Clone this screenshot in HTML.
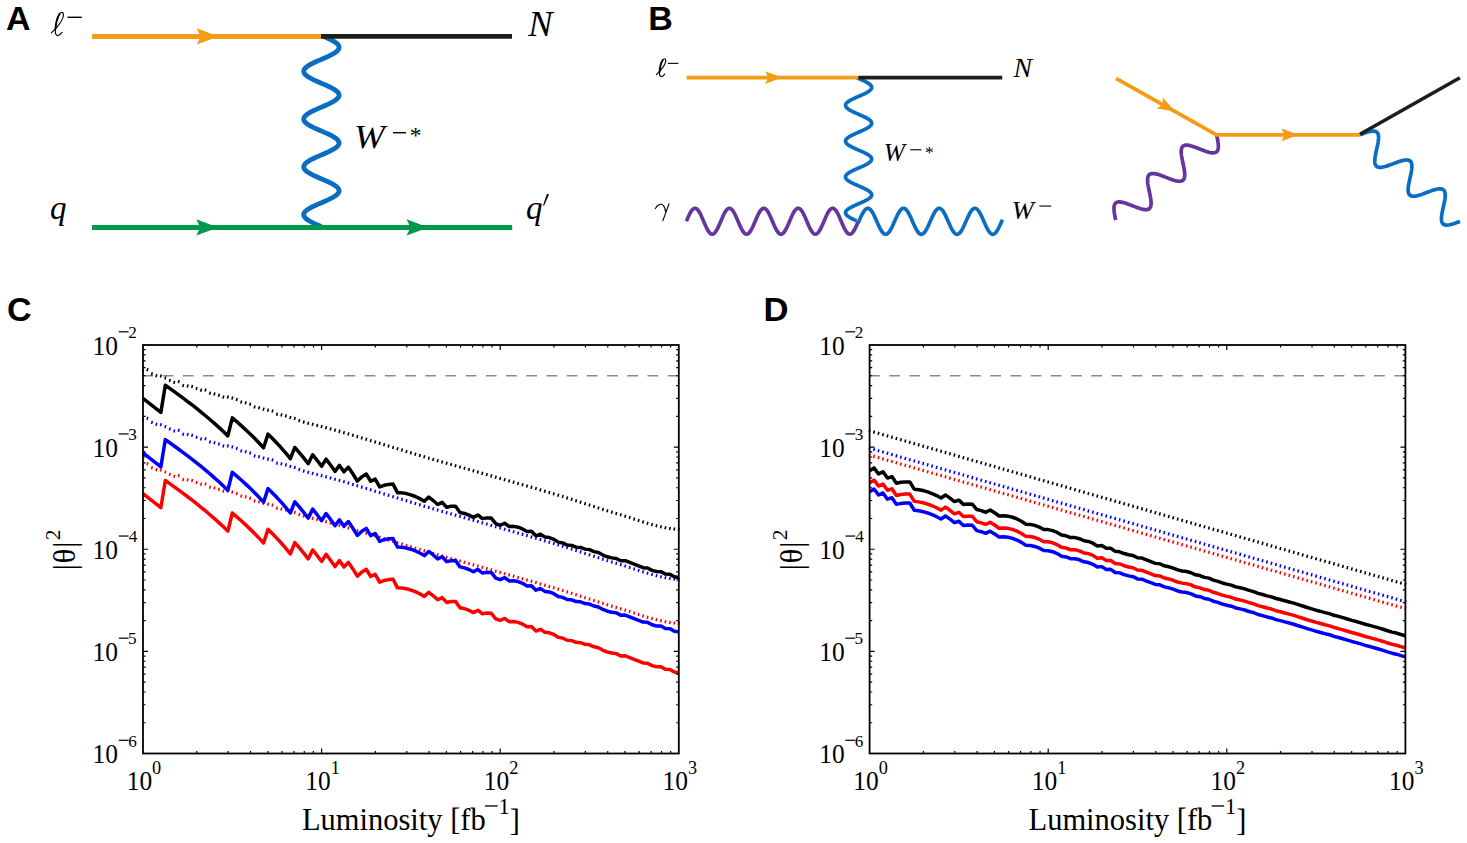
<!DOCTYPE html>
<html><head><meta charset="utf-8"><style>
html,body{margin:0;padding:0;background:#fff;}
svg{display:block;}
</style></head><body>
<svg width="1467" height="843" viewBox="0 0 1467 843">
<rect width="1467" height="843" fill="#fff"/>
<text x="6.05" y="29.8" font-family='"Liberation Sans", sans-serif' font-weight="bold" font-size="34" fill="#000" >A</text>
<text x="648.13" y="29.7" font-family='"Liberation Sans", sans-serif' font-weight="bold" font-size="34" fill="#000" >B</text>
<text x="6.91" y="320.8" font-family='"Liberation Sans", sans-serif' font-weight="bold" font-size="34" fill="#000" >C</text>
<text transform="translate(763.48,320.8) scale(1.02,1)" font-family='"Liberation Sans", sans-serif' font-weight="bold" font-size="34" fill="#000" >D</text>
<path d="M324.07,36.6 L326.75,37.79 L329.31,38.98 L331.68,40.16 L333.8,41.35 L335.61,42.54 L337.08,43.73 L338.17,44.92 L338.84,46.11 L339.1,47.29 L338.92,48.48 L338.32,49.67 L337.3,50.86 L335.9,52.05 L334.15,53.23 L332.08,54.42 L329.76,55.61 L327.23,56.8 L324.56,57.99 L321.81,59.17 L319.05,60.36 L316.35,61.55 L313.77,62.74 L311.38,63.93 L309.23,65.11 L307.38,66.3 L305.87,67.49 L304.74,68.68 L304.01,69.87 L303.71,71.06 L303.84,72.24 L304.39,73.43 L305.36,74.62 L306.72,75.81 L308.43,77 L310.47,78.18 L312.76,79.37 L315.27,80.56 L317.93,81.75 L320.67,82.94 L323.43,84.12 L326.14,85.31 L328.74,86.5 L331.15,87.69 L333.33,88.88 L335.22,90.07 L336.77,91.25 L337.95,92.44 L338.72,93.63 L339.08,94.82 L339,96.01 L338.5,97.19 L337.57,98.38 L336.26,99.57 L334.58,100.76 L332.58,101.95 L330.31,103.13 L327.83,104.32 L325.18,105.51 L322.45,106.7 L319.69,107.89 L316.97,109.08 L314.36,110.26 L311.92,111.45 L309.71,112.64 L307.78,113.83 L306.19,115.02 L304.97,116.2 L304.14,117.39 L303.74,118.58 L303.77,119.77 L304.22,120.96 L305.1,122.15 L306.37,123.33 L308.01,124.52 L309.97,125.71 L312.21,126.9 L314.68,128.09 L317.3,129.27 L320.03,130.46 L322.79,131.65 L325.52,132.84 L328.15,134.03 L330.61,135.21 L332.85,136.4 L334.81,137.59 L336.44,138.78 L337.71,139.97 L338.58,141.16 L339.03,142.34 L339.06,143.53 L338.65,144.72 L337.82,145.91 L336.6,147.1 L335,148.28 L333.07,149.47 L330.86,150.66 L328.42,151.85 L325.81,153.04 L323.09,154.22 L320.32,155.41 L317.59,156.6 L314.95,157.79 L312.46,158.98 L310.19,160.16 L308.2,161.35 L306.53,162.54 L305.22,163.73 L304.3,164.92 L303.8,166.11 L303.72,167.29 L304.08,168.48 L304.86,169.67 L306.04,170.86 L307.6,172.05 L309.49,173.23 L311.67,174.42 L314.09,175.61 L316.69,176.8 L319.4,177.99 L322.16,179.17 L324.9,180.36 L327.55,181.55 L330.06,182.74 L332.36,183.93 L334.38,185.12 L336.1,186.3 L337.45,187.49 L338.42,188.68 L338.97,189.87 L339.09,191.06 L338.78,192.24 L338.05,193.43 L336.91,194.62 L335.4,195.81 L333.55,197 L331.4,198.18 L329,199.37 L326.42,200.56 L323.72,201.75 L320.96,202.94 L318.22,204.13 L315.55,205.31 L313.02,206.5 L310.7,207.69 L308.63,208.88 L306.88,210.07 L305.48,211.25 L304.47,212.44 L303.87,213.63 L303.7,214.82 L303.96,216.01 L304.64,217.19 L305.73,218.38 L307.21,219.57 L309.02,220.76 L311.14,221.95 L313.51,223.14 L316.07,224.32 L318.76,225.51 L321.52,226.7" fill="none" stroke="#0A6DC2" stroke-width="4.8" stroke-linejoin="round" stroke-linecap="butt" />
<line x1="92" y1="36.4" x2="321.2" y2="36.4" stroke="#F49C14" stroke-width="5" stroke-linecap="butt" />
<line x1="321" y1="36.4" x2="512" y2="36.4" stroke="#1d1d1b" stroke-width="4.6" stroke-linecap="butt" />
<path d="M218.5,36.4 L196.7,44.6 L200.62,36.4 L196.7,28.2Z" fill="#F49C14"/>
<line x1="92" y1="227.4" x2="512.2" y2="227.4" stroke="#00984A" stroke-width="5" stroke-linecap="butt" />
<path d="M218.1,227.4 L196.3,235.6 L200.22,227.4 L196.3,219.2Z" fill="#00984A"/>
<path d="M428.4,227.4 L406.6,235.6 L410.52,227.4 L406.6,219.2Z" fill="#00984A"/>
<path transform="translate(51,12.4) scale(0.99)" d="M0.3,20.7 L5.4,15.6 C8.5,12 12.8,5.5 12.6,2 C12.4,-0.8 10,-0.6 8.6,1.6 C6.5,5 4.8,12 4.4,17 C4.1,21 4.8,23.3 6.6,23.4 C8.4,23.4 10.2,21.5 11.2,20.2" fill="none" stroke="#000" stroke-width="1.16" stroke-linecap="round"/>
<path transform="translate(51,12.4) scale(0.99)" d="M8.6,1.6 C6.5,5 4.8,12 4.4,17" fill="none" stroke="#000" stroke-width="1.92" stroke-linecap="round"/>
<rect x="67.5" y="16.6" width="14.3" height="1.4" fill="#000"/>
<text x="528.17" y="35.8" font-family='"Liberation Serif", serif' font-style="italic" font-size="36.5" fill="#000" >N</text>
<text transform="translate(354.06,147.6) scale(1.09,1)" font-family='"Liberation Serif", serif' font-style="italic" font-size="34" fill="#000" >W</text>
<rect x="393" y="132" width="13" height="1.4" fill="#000"/>
<text x="409.65" y="143.3" font-family='"Liberation Serif", serif'  font-size="23.5" fill="#000" >*</text>
<text x="50" y="219.2" font-family='"Liberation Serif", serif' font-style="italic" font-size="33" fill="#000" >q</text>
<text x="525.9" y="219.4" font-family='"Liberation Serif", serif' font-style="italic" font-size="33" fill="#000" >q</text>
<path d="M546.9,194.0 Q548.2,193.6 549.0,194.6 L544.0,205.8 L543.0,205.4 Z" fill="#000"/>
<path d="M856.54,77.6 L858.59,78.49 L860.64,79.39 L862.64,80.28 L864.54,81.18 L866.29,82.07 L867.85,82.97 L869.19,83.86 L870.27,84.76 L871.06,85.66 L871.54,86.55 L871.7,87.44 L871.54,88.34 L871.06,89.23 L870.28,90.13 L869.2,91.02 L867.87,91.92 L866.31,92.81 L864.56,93.71 L862.66,94.6 L860.66,95.5 L858.61,96.39 L856.56,97.29 L854.56,98.19 L852.66,99.08 L850.91,99.97 L849.35,100.87 L848.01,101.77 L846.93,102.66 L846.14,103.55 L845.66,104.45 L845.5,105.34 L845.66,106.24 L846.14,107.13 L846.92,108.03 L848,108.92 L849.33,109.82 L850.89,110.72 L852.64,111.61 L854.54,112.5 L856.54,113.4 L858.59,114.29 L860.64,115.19 L862.64,116.09 L864.54,116.98 L866.29,117.88 L867.85,118.77 L869.19,119.66 L870.27,120.56 L871.06,121.46 L871.54,122.35 L871.7,123.25 L871.54,124.14 L871.06,125.03 L870.28,125.93 L869.2,126.83 L867.87,127.72 L866.31,128.62 L864.56,129.51 L862.66,130.41 L860.66,131.3 L858.61,132.19 L856.56,133.09 L854.56,133.99 L852.66,134.88 L850.91,135.78 L849.35,136.67 L848.01,137.56 L846.93,138.46 L846.14,139.36 L845.66,140.25 L845.5,141.14 L845.66,142.04 L846.14,142.94 L846.92,143.83 L848,144.73 L849.33,145.62 L850.89,146.51 L852.64,147.41 L854.54,148.31 L856.54,149.2 L858.59,150.09 L860.64,150.99 L862.64,151.88 L864.54,152.78 L866.29,153.68 L867.85,154.57 L869.19,155.47 L870.27,156.36 L871.06,157.25 L871.54,158.15 L871.7,159.05 L871.54,159.94 L871.06,160.84 L870.28,161.73 L869.2,162.62 L867.87,163.52 L866.31,164.41 L864.56,165.31 L862.66,166.21 L860.66,167.1 L858.61,168 L856.56,168.89 L854.56,169.79 L852.66,170.68 L850.91,171.57 L849.35,172.47 L848.01,173.37 L846.93,174.26 L846.14,175.16 L845.66,176.05 L845.5,176.94 L845.66,177.84 L846.14,178.74 L846.92,179.63 L848,180.53 L849.33,181.42 L850.89,182.31 L852.64,183.21 L854.54,184.11 L856.54,185 L858.59,185.9 L860.64,186.79 L862.64,187.69 L864.54,188.58 L866.29,189.48 L867.85,190.37 L869.19,191.26 L870.27,192.16 L871.06,193.06 L871.54,193.95 L871.7,194.84 L871.54,195.74 L871.06,196.64 L870.28,197.53 L869.2,198.43 L867.87,199.32 L866.31,200.22 L864.56,201.11 L862.66,202 L860.66,202.9 L858.61,203.8 L856.56,204.69 L854.56,205.59 L852.66,206.48 L850.91,207.38 L849.35,208.27 L848.01,209.16 L846.93,210.06 L846.14,210.96 L845.66,211.85 L845.5,212.75 L845.66,213.64 L846.14,214.54 L846.92,215.43 L848,216.33 L849.33,217.22 L850.89,218.12 L852.64,219.01 L854.54,219.91 L856.54,220.8" fill="none" stroke="#0A6DC2" stroke-width="3.7" stroke-linejoin="round" stroke-linecap="butt" />
<path d="M686.4,221.2 L687.48,218.66 L688.55,216.23 L689.62,213.98 L690.7,212.01 L691.77,210.39 L692.85,209.19 L693.92,208.45 L695,208.2 L696.07,208.45 L697.15,209.19 L698.23,210.39 L699.3,212.01 L700.38,213.98 L701.45,216.23 L702.52,218.66 L703.6,221.2 L704.67,223.74 L705.75,226.17 L706.82,228.42 L707.9,230.39 L708.98,232.01 L710.05,233.21 L711.12,233.95 L712.2,234.2 L713.27,233.95 L714.35,233.21 L715.42,232.01 L716.5,230.39 L717.57,228.42 L718.65,226.17 L719.73,223.74 L720.8,221.2 L721.88,218.66 L722.95,216.23 L724.02,213.98 L725.1,212.01 L726.17,210.39 L727.25,209.19 L728.32,208.45 L729.4,208.2 L730.48,208.45 L731.55,209.19 L732.62,210.39 L733.7,212.01 L734.77,213.98 L735.85,216.23 L736.92,218.66 L738,221.2 L739.07,223.74 L740.15,226.17 L741.23,228.42 L742.3,230.39 L743.38,232.01 L744.45,233.21 L745.52,233.95 L746.6,234.2 L747.67,233.95 L748.75,233.21 L749.82,232.01 L750.9,230.39 L751.98,228.42 L753.05,226.17 L754.12,223.74 L755.2,221.2 L756.27,218.66 L757.35,216.23 L758.42,213.98 L759.5,212.01 L760.57,210.39 L761.65,209.19 L762.73,208.45 L763.8,208.2 L764.88,208.45 L765.95,209.19 L767.02,210.39 L768.1,212.01 L769.17,213.98 L770.25,216.23 L771.32,218.66 L772.4,221.2 L773.48,223.74 L774.55,226.17 L775.62,228.42 L776.7,230.39 L777.77,232.01 L778.85,233.21 L779.92,233.95 L781,234.2 L782.07,233.95 L783.15,233.21 L784.23,232.01 L785.3,230.39 L786.38,228.42 L787.45,226.17 L788.52,223.74 L789.6,221.2 L790.67,218.66 L791.75,216.23 L792.82,213.98 L793.9,212.01 L794.98,210.39 L796.05,209.19 L797.12,208.45 L798.2,208.2 L799.27,208.45 L800.35,209.19 L801.42,210.39 L802.5,212.01 L803.57,213.98 L804.65,216.23 L805.73,218.66 L806.8,221.2 L807.88,223.74 L808.95,226.17 L810.02,228.42 L811.1,230.39 L812.17,232.01 L813.25,233.21 L814.32,233.95 L815.4,234.2 L816.47,233.95 L817.55,233.21 L818.62,232.01 L819.7,230.39 L820.77,228.42 L821.85,226.17 L822.92,223.74 L824,221.2 L825.08,218.66 L826.15,216.23 L827.22,213.98 L828.3,212.01 L829.38,210.39 L830.45,209.19 L831.52,208.45 L832.6,208.2 L833.67,208.45 L834.75,209.19 L835.83,210.39 L836.9,212.01 L837.97,213.98 L839.05,216.23 L840.12,218.66 L841.2,221.2 L842.27,223.74 L843.35,226.17 L844.42,228.42 L845.5,230.39 L846.58,232.01 L847.65,233.21 L848.72,233.95 L849.8,234.2 L850.88,233.95 L851.95,233.21 L853.02,232.01 L854.1,230.39 L855.17,228.42 L856.25,226.17 L857.33,223.74 L858.4,221.2" fill="none" stroke="#66369E" stroke-width="3.7" stroke-linejoin="round" stroke-linecap="butt" />
<path d="M858.2,222.9 L859.1,220.84 L860,218.79 L860.9,216.81 L861.81,214.94 L862.71,213.23 L863.61,211.72 L864.51,210.45 L865.41,209.46 L866.31,208.76 L867.21,208.38 L868.11,208.32 L869.01,208.58 L869.92,209.17 L870.82,210.06 L871.72,211.24 L872.62,212.66 L873.52,214.3 L874.42,216.12 L875.32,218.07 L876.23,220.1 L877.13,222.16 L878.03,224.2 L878.93,226.16 L879.83,228.01 L880.73,229.68 L881.63,231.15 L882.53,232.36 L883.44,233.3 L884.34,233.94 L885.24,234.26 L886.14,234.26 L887.04,233.93 L887.94,233.28 L888.84,232.33 L889.74,231.11 L890.64,229.64 L891.55,227.96 L892.45,226.11 L893.35,224.14 L894.25,222.1 L895.15,220.04 L896.05,218.01 L896.95,216.07 L897.86,214.25 L898.76,212.62 L899.66,211.2 L900.56,210.03 L901.46,209.15 L902.36,208.57 L903.26,208.31 L904.16,208.38 L905.07,208.77 L905.97,209.48 L906.87,210.49 L907.77,211.76 L908.67,213.28 L909.57,214.99 L910.47,216.87 L911.37,218.85 L912.27,220.9 L913.18,222.96 L914.08,224.97 L914.98,226.9 L915.88,228.68 L916.78,230.28 L917.68,231.65 L918.58,232.76 L919.49,233.59 L920.39,234.1 L921.29,234.3 L922.19,234.17 L923.09,233.71 L923.99,232.95 L924.89,231.89 L925.79,230.56 L926.7,229.01 L927.6,227.26 L928.5,225.36 L929.4,223.35 L930.3,221.3 L931.2,219.25 L932.1,217.24 L933,215.34 L933.9,213.59 L934.81,212.04 L935.71,210.71 L936.61,209.65 L937.51,208.89 L938.41,208.43 L939.31,208.3 L940.21,208.5 L941.12,209.01 L942.02,209.84 L942.92,210.95 L943.82,212.32 L944.72,213.92 L945.62,215.7 L946.52,217.63 L947.42,219.64 L948.33,221.7 L949.23,223.75 L950.13,225.73 L951.03,227.61 L951.93,229.32 L952.83,230.84 L953.73,232.11 L954.63,233.12 L955.53,233.83 L956.44,234.22 L957.34,234.29 L958.24,234.03 L959.14,233.45 L960.04,232.57 L960.94,231.4 L961.84,229.98 L962.75,228.35 L963.65,226.53 L964.55,224.59 L965.45,222.56 L966.35,220.5 L967.25,218.46 L968.15,216.49 L969.05,214.64 L969.96,212.96 L970.86,211.49 L971.76,210.27 L972.66,209.32 L973.56,208.67 L974.46,208.34 L975.36,208.34 L976.26,208.66 L977.16,209.3 L978.07,210.24 L978.97,211.45 L979.87,212.92 L980.77,214.59 L981.67,216.44 L982.57,218.4 L983.47,220.44 L984.38,222.5 L985.28,224.53 L986.18,226.48 L987.08,228.3 L987.98,229.94 L988.88,231.36 L989.78,232.54 L990.68,233.43 L991.59,234.02 L992.49,234.28 L993.39,234.22 L994.29,233.84 L995.19,233.14 L996.09,232.15 L996.99,230.88 L997.89,229.37 L998.79,227.66 L999.7,225.79 L1000.6,223.81 L1001.5,221.76 L1002.4,219.7" fill="none" stroke="#0A6DC2" stroke-width="3.7" stroke-linejoin="round" stroke-linecap="butt" />
<line x1="686.6" y1="77.6" x2="858.6" y2="77.6" stroke="#F49C14" stroke-width="3.8" stroke-linecap="butt" />
<line x1="858.4" y1="77.6" x2="1002.2" y2="77.6" stroke="#1d1d1b" stroke-width="3.6" stroke-linecap="butt" />
<path d="M782.2,77.6 L765.2,83.95 L768.26,77.6 L765.2,71.25Z" fill="#F49C14"/>
<path transform="translate(656.2,58.8) scale(0.76)" d="M0.3,20.7 L5.4,15.6 C8.5,12 12.8,5.5 12.6,2 C12.4,-0.8 10,-0.6 8.6,1.6 C6.5,5 4.8,12 4.4,17 C4.1,21 4.8,23.3 6.6,23.4 C8.4,23.4 10.2,21.5 11.2,20.2" fill="none" stroke="#000" stroke-width="1.51" stroke-linecap="round"/>
<path transform="translate(656.2,58.8) scale(0.76)" d="M8.6,1.6 C6.5,5 4.8,12 4.4,17" fill="none" stroke="#000" stroke-width="2.5" stroke-linecap="round"/>
<rect x="667.8" y="62.8" width="10.6" height="1.1" fill="#000"/>
<text x="1013.6" y="77.2" font-family='"Liberation Serif", serif' font-style="italic" font-size="27.8" fill="#000" >N</text>
<text transform="translate(883.72,161.3) scale(1.02,1)" font-family='"Liberation Serif", serif' font-style="italic" font-size="25" fill="#000" >W</text>
<rect x="910.2" y="149.2" width="11.2" height="1.1" fill="#000"/>
<text x="924.95" y="158.2" font-family='"Liberation Serif", serif'  font-size="17.5" fill="#000" >*</text>
<path d="M655.4,208.6 C657.4,204.6 661.2,202.8 663.5,205.6 C664.8,207.2 665.4,209.6 665.6,211.8 M669,203.9 L662.9,220.6" fill="none" stroke="#000" stroke-width="1.15" stroke-linecap="round"/>
<text transform="translate(1011.65,219) scale(1.04,1)" font-family='"Liberation Serif", serif' font-style="italic" font-size="25.5" fill="#000" >W</text>
<rect x="1039.4" y="205.5" width="11.9" height="1.1" fill="#000"/>
<path d="M1216.6,134.8 L1216.96,136.5 L1217.3,138.18 L1217.61,139.84 L1217.89,141.44 L1218.11,142.98 L1218.26,144.45 L1218.34,145.82 L1218.34,147.1 L1218.24,148.26 L1218.04,149.3 L1217.74,150.22 L1217.32,151 L1216.78,151.65 L1216.13,152.16 L1215.37,152.53 L1214.49,152.77 L1213.5,152.87 L1212.4,152.85 L1211.2,152.72 L1209.92,152.47 L1208.55,152.13 L1207.11,151.7 L1205.61,151.21 L1204.06,150.65 L1202.47,150.05 L1200.86,149.42 L1199.24,148.79 L1197.63,148.16 L1196.04,147.55 L1194.47,146.97 L1192.95,146.45 L1191.49,146 L1190.1,145.63 L1188.78,145.35 L1187.55,145.18 L1186.42,145.12 L1185.4,145.18 L1184.48,145.38 L1183.68,145.7 L1182.99,146.17 L1182.42,146.77 L1181.96,147.51 L1181.61,148.38 L1181.38,149.38 L1181.25,150.5 L1181.21,151.74 L1181.27,153.09 L1181.4,154.52 L1181.6,156.04 L1181.86,157.62 L1182.16,159.26 L1182.5,160.94 L1182.85,162.63 L1183.2,164.33 L1183.55,166.03 L1183.88,167.69 L1184.17,169.31 L1184.41,170.87 L1184.59,172.37 L1184.69,173.77 L1184.72,175.08 L1184.65,176.28 L1184.49,177.37 L1184.22,178.33 L1183.84,179.15 L1183.34,179.85 L1182.73,180.4 L1182,180.82 L1181.16,181.1 L1180.2,181.25 L1179.14,181.27 L1177.98,181.18 L1176.72,180.97 L1175.38,180.66 L1173.96,180.26 L1172.48,179.78 L1170.94,179.24 L1169.37,178.65 L1167.77,178.03 L1166.15,177.4 L1164.53,176.77 L1162.93,176.15 L1161.36,175.56 L1159.82,175.02 L1158.34,174.54 L1156.92,174.14 L1155.58,173.83 L1154.32,173.62 L1153.16,173.53 L1152.1,173.55 L1151.14,173.7 L1150.3,173.98 L1149.57,174.4 L1148.96,174.95 L1148.46,175.65 L1148.08,176.47 L1147.81,177.43 L1147.65,178.52 L1147.58,179.72 L1147.61,181.03 L1147.71,182.43 L1147.89,183.93 L1148.13,185.49 L1148.42,187.11 L1148.75,188.77 L1149.1,190.47 L1149.45,192.17 L1149.8,193.86 L1150.14,195.54 L1150.44,197.18 L1150.7,198.76 L1150.9,200.28 L1151.03,201.71 L1151.09,203.06 L1151.05,204.3 L1150.92,205.42 L1150.69,206.42 L1150.34,207.29 L1149.88,208.03 L1149.31,208.63 L1148.62,209.1 L1147.82,209.42 L1146.9,209.62 L1145.88,209.68 L1144.75,209.62 L1143.52,209.45 L1142.2,209.17 L1140.81,208.8 L1139.35,208.35 L1137.83,207.83 L1136.26,207.25 L1134.67,206.64 L1133.06,206.01 L1131.44,205.38 L1129.83,204.75 L1128.24,204.15 L1126.69,203.59 L1125.19,203.1 L1123.75,202.67 L1122.38,202.33 L1121.1,202.08 L1119.9,201.95 L1118.8,201.93 L1117.81,202.03 L1116.93,202.27 L1116.17,202.64 L1115.52,203.15 L1114.98,203.8 L1114.56,204.58 L1114.26,205.5 L1114.06,206.54 L1113.96,207.7 L1113.96,208.98 L1114.04,210.35 L1114.19,211.82 L1114.41,213.36 L1114.69,214.96 L1115,216.62 L1115.34,218.3 L1115.7,220" fill="none" stroke="#66369E" stroke-width="3.7" stroke-linejoin="round" stroke-linecap="butt" />
<path d="M1360,134.8 L1361.63,134.19 L1363.24,133.59 L1364.82,133.02 L1366.36,132.5 L1367.85,132.05 L1369.28,131.67 L1370.62,131.37 L1371.89,131.18 L1373.05,131.1 L1374.11,131.13 L1375.07,131.3 L1375.91,131.59 L1376.63,132.02 L1377.23,132.58 L1377.72,133.28 L1378.09,134.11 L1378.35,135.08 L1378.51,136.16 L1378.56,137.37 L1378.52,138.68 L1378.39,140.08 L1378.2,141.57 L1377.94,143.13 L1377.63,144.75 L1377.29,146.41 L1376.92,148.1 L1376.54,149.8 L1376.17,151.49 L1375.81,153.16 L1375.49,154.8 L1375.22,156.38 L1375,157.9 L1374.85,159.33 L1374.78,160.68 L1374.8,161.91 L1374.92,163.04 L1375.14,164.05 L1375.47,164.92 L1375.92,165.67 L1376.49,166.28 L1377.17,166.75 L1377.97,167.09 L1378.89,167.29 L1379.92,167.37 L1381.05,167.33 L1382.28,167.17 L1383.6,166.91 L1385,166.56 L1386.47,166.12 L1387.99,165.62 L1389.56,165.07 L1391.17,164.48 L1392.79,163.87 L1394.42,163.26 L1396.04,162.65 L1397.63,162.07 L1399.19,161.54 L1400.7,161.06 L1402.14,160.65 L1403.52,160.33 L1404.81,160.1 L1406.01,159.98 L1407.1,159.97 L1408.09,160.09 L1408.97,160.34 L1409.73,160.73 L1410.38,161.24 L1410.91,161.9 L1411.32,162.69 L1411.61,163.61 L1411.8,164.65 L1411.89,165.82 L1411.87,167.09 L1411.78,168.47 L1411.6,169.93 L1411.36,171.47 L1411.07,173.07 L1410.74,174.72 L1410.38,176.4 L1410,178.1 L1409.62,179.8 L1409.26,181.48 L1408.93,183.13 L1408.64,184.73 L1408.4,186.27 L1408.22,187.73 L1408.13,189.11 L1408.11,190.38 L1408.2,191.55 L1408.39,192.59 L1408.68,193.51 L1409.09,194.3 L1409.62,194.96 L1410.27,195.47 L1411.03,195.86 L1411.91,196.11 L1412.9,196.23 L1413.99,196.22 L1415.19,196.1 L1416.48,195.87 L1417.86,195.55 L1419.3,195.14 L1420.81,194.66 L1422.37,194.13 L1423.96,193.55 L1425.58,192.94 L1427.21,192.33 L1428.83,191.72 L1430.44,191.13 L1432.01,190.58 L1433.53,190.08 L1435,189.64 L1436.4,189.29 L1437.72,189.03 L1438.95,188.87 L1440.08,188.83 L1441.11,188.91 L1442.03,189.11 L1442.83,189.45 L1443.51,189.92 L1444.08,190.53 L1444.53,191.28 L1444.86,192.15 L1445.08,193.16 L1445.2,194.29 L1445.22,195.52 L1445.15,196.87 L1445,198.3 L1444.78,199.82 L1444.51,201.4 L1444.19,203.04 L1443.83,204.71 L1443.46,206.4 L1443.08,208.1 L1442.71,209.79 L1442.37,211.45 L1442.06,213.07 L1441.8,214.63 L1441.61,216.12 L1441.48,217.52 L1441.44,218.83 L1441.49,220.04 L1441.65,221.12 L1441.91,222.09 L1442.28,222.92 L1442.77,223.62 L1443.37,224.18 L1444.09,224.61 L1444.93,224.9 L1445.89,225.07 L1446.95,225.1 L1448.11,225.02 L1449.38,224.83 L1450.72,224.53 L1452.15,224.15 L1453.64,223.7 L1455.18,223.18 L1456.76,222.61 L1458.37,222.01 L1460,221.4" fill="none" stroke="#0A6DC2" stroke-width="3.7" stroke-linejoin="round" stroke-linecap="butt" />
<line x1="1116" y1="78.4" x2="1216.6" y2="134.8" stroke="#F49C14" stroke-width="3.8" stroke-linecap="butt" />
<line x1="1215.6" y1="134.8" x2="1360" y2="134.8" stroke="#F49C14" stroke-width="3.8" stroke-linecap="butt" />
<line x1="1360" y1="134.3" x2="1459.9" y2="77.7" stroke="#1d1d1b" stroke-width="3.6" stroke-linecap="butt" />
<path d="M1174.7,111.3 L1156.77,108.53 L1162.54,104.48 L1162.98,97.45Z" fill="#F49C14"/>
<path d="M1298.5,134.8 L1281.5,141.15 L1284.56,134.8 L1281.5,128.45Z" fill="#F49C14"/>
<line x1="142.5" y1="375.74" x2="678.8" y2="375.74" stroke="#8a8a8a" stroke-width="1.3" stroke-dasharray="10.7 9.5"/>
<path d="M142.59,372.55l0.83,-3.09M147.05,371.25l0.83,-3.09M151.52,375.35l0.83,-3.09M155.98,377.25l0.83,-3.09M160.45,377.65l0.83,-3.09M164.91,379.55l0.83,-3.09M169.38,381.95l0.83,-3.09M173.84,383.85l0.83,-3.09M178.31,383.15l0.83,-3.09M182.77,387.15l0.83,-3.09M187.24,387.45l0.83,-3.09M191.7,388.15l0.83,-3.09M196.17,390.05l0.83,-3.09M200.63,391.75l0.83,-3.09M205.1,391.55l0.83,-3.09M209.56,394.75l0.83,-3.09M214.03,395.45l0.83,-3.09M218.49,396.85l0.83,-3.09M222.96,398.65l0.83,-3.09M227.42,398.65l0.83,-3.09M231.89,399.65l0.83,-3.09M236.35,401.15l0.83,-3.09M240.82,403.65l0.83,-3.09M245.28,404.35l0.83,-3.09M249.75,405.75l0.83,-3.09M254.21,408.55l0.83,-3.09M258.68,409.35l0.83,-3.09M263.14,410.75l0.83,-3.09M267.61,411.75l0.83,-3.09M272.07,412.55l0.83,-3.09M276.54,415.75l0.83,-3.09M281,416.45l0.83,-3.09M285.47,417.45l0.83,-3.09M289.93,418.95l0.83,-3.09M294.4,419.95l0.83,-3.09M298.86,422.15l0.83,-3.09M303.33,423.62l0.83,-3.09M307.79,424.83l0.83,-3.09M312.26,425.9l0.83,-3.09M316.72,426.96l0.83,-3.09M321.19,428.12l0.83,-3.09M325.65,429.31l0.83,-3.09M330.12,430.49l0.83,-3.09M334.58,431.69l0.83,-3.09M339.05,432.92l0.83,-3.09M343.51,434.19l0.83,-3.09M347.98,435.49l0.83,-3.09M352.44,436.81l0.83,-3.09M356.91,438.14l0.83,-3.09M361.37,439.49l0.83,-3.09M365.84,440.85l0.83,-3.09M370.3,442.21l0.83,-3.09M374.77,443.57l0.83,-3.09M379.23,444.91l0.83,-3.09M383.7,446.25l0.83,-3.09M388.16,447.6l0.83,-3.09M392.63,448.95l0.83,-3.09M397.09,450.31l0.83,-3.09M401.56,451.66l0.83,-3.09M406.02,453.02l0.83,-3.09M410.49,454.37l0.83,-3.09M414.95,455.71l0.83,-3.09M419.42,457.05l0.83,-3.09M423.88,458.37l0.83,-3.09M428.35,459.68l0.83,-3.09M432.81,460.98l0.83,-3.09M437.28,462.27l0.83,-3.09M441.74,463.54l0.83,-3.09M446.21,464.81l0.83,-3.09M450.67,466.07l0.83,-3.09M455.14,467.32l0.83,-3.09M459.6,468.58l0.83,-3.09M464.07,469.83l0.83,-3.09M468.53,471.08l0.83,-3.09M473,472.34l0.83,-3.09M477.46,473.61l0.83,-3.09M481.93,474.88l0.83,-3.09M486.39,476.15l0.83,-3.09M490.86,477.42l0.83,-3.09M495.32,478.68l0.83,-3.09M499.79,479.95l0.83,-3.09M504.25,481.21l0.83,-3.09M508.72,482.48l0.83,-3.09M513.18,483.74l0.83,-3.09M517.65,485.01l0.83,-3.09M522.11,486.28l0.83,-3.09M526.58,487.56l0.83,-3.09M531.04,488.84l0.83,-3.09M535.51,490.13l0.83,-3.09M539.97,491.43l0.83,-3.09M544.44,492.73l0.83,-3.09M548.9,494.05l0.83,-3.09M553.37,495.37l0.83,-3.09M557.83,496.71l0.83,-3.09M562.3,498.06l0.83,-3.09M566.76,499.44l0.83,-3.09M571.23,500.85l0.83,-3.09M575.69,502.28l0.83,-3.09M580.16,503.73l0.83,-3.09M584.62,505.18l0.83,-3.09M589.09,506.63l0.83,-3.09M593.55,508.08l0.83,-3.09M598.02,509.52l0.83,-3.09M602.48,510.94l0.83,-3.09M606.95,512.33l0.83,-3.09M611.41,513.7l0.83,-3.09M615.88,515.03l0.83,-3.09M620.34,516.33l0.83,-3.09M624.81,517.71l0.83,-3.09M629.27,519.14l0.83,-3.09M633.74,520.59l0.83,-3.09M638.2,522.04l0.83,-3.09M642.67,523.46l0.83,-3.09M647.13,524.84l0.83,-3.09M651.6,526.13l0.83,-3.09M656.06,527.32l0.83,-3.09M660.53,528.39l0.83,-3.09M664.99,529.3l0.83,-3.09M669.46,530.02l0.83,-3.09M673.92,530.55l0.83,-3.09M678.39,530.85l0.83,-3.09" stroke="#000" stroke-width="1.6" fill="none"/>
<path d="M142.59,421.15l0.83,-3.09M147.05,419.86l0.83,-3.09M151.52,423.97l0.83,-3.09M155.98,425.88l0.83,-3.09M160.45,426.29l0.83,-3.09M164.91,428.2l0.83,-3.09M169.38,430.62l0.83,-3.09M173.84,432.53l0.83,-3.09M178.31,431.84l0.83,-3.09M182.77,435.85l0.83,-3.09M187.24,436.16l0.83,-3.09M191.7,436.87l0.83,-3.09M196.17,438.79l0.83,-3.09M200.63,440.5l0.83,-3.09M205.1,440.31l0.83,-3.09M209.56,443.52l0.83,-3.09M214.03,444.23l0.83,-3.09M218.49,445.64l0.83,-3.09M222.96,447.46l0.83,-3.09M227.42,447.47l0.83,-3.09M231.89,448.48l0.83,-3.09M236.35,449.99l0.83,-3.09M240.82,452.5l0.83,-3.09M245.28,453.21l0.83,-3.09M249.75,454.63l0.83,-3.09M254.21,457.44l0.83,-3.09M258.68,458.25l0.83,-3.09M263.14,459.66l0.83,-3.09M267.61,460.67l0.83,-3.09M272.07,461.48l0.83,-3.09M276.54,464.7l0.83,-3.09M281,465.41l0.83,-3.09M285.47,466.42l0.83,-3.09M289.93,467.93l0.83,-3.09M294.4,468.94l0.83,-3.09M298.86,471.15l0.83,-3.09M303.33,472.64l0.83,-3.09M307.79,473.86l0.83,-3.09M312.26,474.94l0.83,-3.09M316.72,476.01l0.83,-3.09M321.19,477.19l0.83,-3.09M325.65,478.39l0.83,-3.09M330.12,479.58l0.83,-3.09M334.58,480.79l0.83,-3.09M339.05,482.03l0.83,-3.09M343.51,483.31l0.83,-3.09M347.98,484.62l0.83,-3.09M352.44,485.95l0.83,-3.09M356.91,487.3l0.83,-3.09M361.37,488.67l0.83,-3.09M365.84,490.04l0.83,-3.09M370.3,491.41l0.83,-3.09M374.77,492.77l0.83,-3.09M379.23,494.13l0.83,-3.09M383.7,495.48l0.83,-3.09M388.16,496.84l0.83,-3.09M392.63,498.21l0.83,-3.09M397.09,499.57l0.83,-3.09M401.56,500.94l0.83,-3.09M406.02,502.31l0.83,-3.09M410.49,503.67l0.83,-3.09M414.95,505.02l0.83,-3.09M419.42,506.37l0.83,-3.09M423.88,507.71l0.83,-3.09M428.35,509.03l0.83,-3.09M432.81,510.34l0.83,-3.09M437.28,511.64l0.83,-3.09M441.74,512.93l0.83,-3.09M446.21,514.2l0.83,-3.09M450.67,515.47l0.83,-3.09M455.14,516.74l0.83,-3.09M459.6,518l0.83,-3.09M464.07,519.27l0.83,-3.09M468.53,520.54l0.83,-3.09M473,521.81l0.83,-3.09M477.46,523.08l0.83,-3.09M481.93,524.37l0.83,-3.09M486.39,525.65l0.83,-3.09M490.86,526.93l0.83,-3.09M495.32,528.21l0.83,-3.09M499.79,529.48l0.83,-3.09M504.25,530.76l0.83,-3.09M508.72,532.03l0.83,-3.09M513.18,533.31l0.83,-3.09M517.65,534.59l0.83,-3.09M522.11,535.88l0.83,-3.09M526.58,537.16l0.83,-3.09M531.04,538.46l0.83,-3.09M535.51,539.76l0.83,-3.09M539.97,541.07l0.83,-3.09M544.44,542.38l0.83,-3.09M548.9,543.71l0.83,-3.09M553.37,545.05l0.83,-3.09M557.83,546.39l0.83,-3.09M562.3,547.76l0.83,-3.09M566.76,549.15l0.83,-3.09M571.23,550.57l0.83,-3.09M575.69,552.02l0.83,-3.09M580.16,553.47l0.83,-3.09M584.62,554.94l0.83,-3.09M589.09,556.4l0.83,-3.09M593.55,557.86l0.83,-3.09M598.02,559.31l0.83,-3.09M602.48,560.74l0.83,-3.09M606.95,562.15l0.83,-3.09M611.41,563.52l0.83,-3.09M615.88,564.86l0.83,-3.09M620.34,566.18l0.83,-3.09M624.81,567.57l0.83,-3.09M629.27,569.01l0.83,-3.09M633.74,570.47l0.83,-3.09M638.2,571.93l0.83,-3.09M642.67,573.37l0.83,-3.09M647.13,574.75l0.83,-3.09M651.6,576.06l0.83,-3.09M656.06,577.27l0.83,-3.09M660.53,578.34l0.83,-3.09M664.99,579.26l0.83,-3.09M669.46,580l0.83,-3.09M673.92,580.53l0.83,-3.09M678.39,580.85l0.83,-3.09" stroke="#0000ff" stroke-width="1.6" fill="none"/>
<path d="M142.59,466.55l0.83,-3.09M147.05,465.25l0.83,-3.09M151.52,469.35l0.83,-3.09M155.98,471.25l0.83,-3.09M160.45,471.65l0.83,-3.09M164.91,473.55l0.83,-3.09M169.38,475.95l0.83,-3.09M173.84,477.85l0.83,-3.09M178.31,477.15l0.83,-3.09M182.77,481.15l0.83,-3.09M187.24,481.45l0.83,-3.09M191.7,482.15l0.83,-3.09M196.17,484.05l0.83,-3.09M200.63,485.75l0.83,-3.09M205.1,485.55l0.83,-3.09M209.56,488.75l0.83,-3.09M214.03,489.45l0.83,-3.09M218.49,490.85l0.83,-3.09M222.96,492.65l0.83,-3.09M227.42,492.65l0.83,-3.09M231.89,493.65l0.83,-3.09M236.35,495.15l0.83,-3.09M240.82,497.65l0.83,-3.09M245.28,498.35l0.83,-3.09M249.75,499.75l0.83,-3.09M254.21,502.55l0.83,-3.09M258.68,503.35l0.83,-3.09M263.14,504.75l0.83,-3.09M267.61,505.75l0.83,-3.09M272.07,506.55l0.83,-3.09M276.54,509.75l0.83,-3.09M281,510.45l0.83,-3.09M285.47,511.45l0.83,-3.09M289.93,512.95l0.83,-3.09M294.4,513.95l0.83,-3.09M298.86,516.15l0.83,-3.09M303.33,517.62l0.83,-3.09M307.79,518.83l0.83,-3.09M312.26,519.9l0.83,-3.09M316.72,520.96l0.83,-3.09M321.19,522.12l0.83,-3.09M325.65,523.31l0.83,-3.09M330.12,524.49l0.83,-3.09M334.58,525.69l0.83,-3.09M339.05,526.92l0.83,-3.09M343.51,528.19l0.83,-3.09M347.98,529.49l0.83,-3.09M352.44,530.81l0.83,-3.09M356.91,532.14l0.83,-3.09M361.37,533.49l0.83,-3.09M365.84,534.85l0.83,-3.09M370.3,536.21l0.83,-3.09M374.77,537.57l0.83,-3.09M379.23,538.91l0.83,-3.09M383.7,540.25l0.83,-3.09M388.16,541.6l0.83,-3.09M392.63,542.95l0.83,-3.09M397.09,544.31l0.83,-3.09M401.56,545.66l0.83,-3.09M406.02,547.02l0.83,-3.09M410.49,548.37l0.83,-3.09M414.95,549.71l0.83,-3.09M419.42,551.05l0.83,-3.09M423.88,552.37l0.83,-3.09M428.35,553.68l0.83,-3.09M432.81,554.98l0.83,-3.09M437.28,556.27l0.83,-3.09M441.74,557.54l0.83,-3.09M446.21,558.81l0.83,-3.09M450.67,560.07l0.83,-3.09M455.14,561.32l0.83,-3.09M459.6,562.58l0.83,-3.09M464.07,563.83l0.83,-3.09M468.53,565.08l0.83,-3.09M473,566.34l0.83,-3.09M477.46,567.61l0.83,-3.09M481.93,568.88l0.83,-3.09M486.39,570.15l0.83,-3.09M490.86,571.42l0.83,-3.09M495.32,572.68l0.83,-3.09M499.79,573.95l0.83,-3.09M504.25,575.21l0.83,-3.09M508.72,576.48l0.83,-3.09M513.18,577.74l0.83,-3.09M517.65,579.01l0.83,-3.09M522.11,580.28l0.83,-3.09M526.58,581.56l0.83,-3.09M531.04,582.84l0.83,-3.09M535.51,584.13l0.83,-3.09M539.97,585.43l0.83,-3.09M544.44,586.73l0.83,-3.09M548.9,588.05l0.83,-3.09M553.37,589.37l0.83,-3.09M557.83,590.71l0.83,-3.09M562.3,592.06l0.83,-3.09M566.76,593.44l0.83,-3.09M571.23,594.85l0.83,-3.09M575.69,596.28l0.83,-3.09M580.16,597.73l0.83,-3.09M584.62,599.18l0.83,-3.09M589.09,600.63l0.83,-3.09M593.55,602.08l0.83,-3.09M598.02,603.52l0.83,-3.09M602.48,604.94l0.83,-3.09M606.95,606.33l0.83,-3.09M611.41,607.7l0.83,-3.09M615.88,609.03l0.83,-3.09M620.34,610.33l0.83,-3.09M624.81,611.71l0.83,-3.09M629.27,613.14l0.83,-3.09M633.74,614.59l0.83,-3.09M638.2,616.04l0.83,-3.09M642.67,617.46l0.83,-3.09M647.13,618.84l0.83,-3.09M651.6,620.13l0.83,-3.09M656.06,621.32l0.83,-3.09M660.53,622.39l0.83,-3.09M664.99,623.3l0.83,-3.09M669.46,624.02l0.83,-3.09M673.92,624.55l0.83,-3.09M678.39,624.85l0.83,-3.09" stroke="#ff0000" stroke-width="1.6" fill="none"/>
<path d="M143,398.54 L147.47,401.91 L151.93,405.36 L156.4,408.87 L160.86,412.47 L165.32,385.23 L169.79,388.4 L174.25,391.6 L178.72,394.86 L183.19,398.17 L187.65,401.55 L192.12,404.98 L196.58,408.49 L201.05,412.08 L205.51,415.75 L209.97,419.53 L214.44,423.41 L218.91,427.42 L223.37,431.57 L227.83,435.88 L232.3,417.83 L236.76,421.66 L241.23,425.61 L245.69,429.7 L250.16,433.93 L254.62,438.34 L259.09,442.94 L263.56,447.77 L268.02,434.15 L272.49,438.57 L276.95,443.18 L281.41,448.03 L285.88,453.15 L290.35,458.59 L294.81,447.45 L299.27,452.53 L303.74,457.94 L308.21,463.72 L312.67,454.75 L317.13,460.3 L321.6,466.28 L326.06,459.11 L330.53,464.99 L335,471.36 L339.46,465.41 L343.92,471.81 L348.39,467.16 L352.86,473.73 L357.32,480.97 L361.78,476.9 L366.25,474.02 L370.71,481.29 L375.18,479.07 L379.64,486.96 L384.11,485.33 L388.57,484.41 L393.04,484.09 L397.5,492.66 L401.97,492.87 L406.44,493.6 L410.9,494.82 L415.36,496.49 L419.83,498.62 L424.29,501.21 L428.76,497.09 L433.22,500.56 L437.69,504.53 L442.15,502.36 L446.62,507.24 L451.08,506.33 L455.55,506.19 L460.01,512.49 L464.48,513.45 L468.94,515.09 L473.41,517.4 L477.88,514.98 L482.34,518.61 L486.81,517.88 L491.27,518.05 L495.74,523.66 L500.2,525.28 L504.66,523.22 L509.13,526.49 L513.6,526.35 L518.06,527.17 L522.52,528.9 L526.99,531.52 L531.45,531.34 L535.92,535.83 L540.38,534.1 L544.85,536.99 L549.32,537.56 L553.78,539.27 L558.25,542.11 L562.71,542.95 L567.17,545.06 L571.64,545.43 L576.11,547.16 L580.57,547.44 L585.04,549.13 L589.5,549.63 L593.96,551.6 L598.43,552.58 L602.89,555.09 L607.36,556.81 L611.83,557.87 L616.29,558.43 L620.75,560.76 L625.22,560.66 L629.68,562.46 L634.15,564.16 L638.62,565.87 L643.08,567.71 L647.55,567.97 L652.01,570.4 L656.48,571.55 L660.94,571.65 L665.4,574.12 L669.87,574.23 L674.34,576.84 L678.8,577.48" fill="none" stroke="#000" stroke-width="3.5" stroke-linejoin="round" stroke-linecap="butt" />
<path d="M143,452.94 L147.47,456.31 L151.93,459.76 L156.4,463.27 L160.86,466.87 L165.32,439.63 L169.79,442.8 L174.25,446 L178.72,449.26 L183.19,452.57 L187.65,455.95 L192.12,459.38 L196.58,462.89 L201.05,466.48 L205.51,470.15 L209.97,473.93 L214.44,477.81 L218.91,481.82 L223.37,485.97 L227.83,490.28 L232.3,472.23 L236.76,476.06 L241.23,480.01 L245.69,484.1 L250.16,488.33 L254.62,492.74 L259.09,497.34 L263.56,502.17 L268.02,488.55 L272.49,492.97 L276.95,497.58 L281.41,502.43 L285.88,507.55 L290.35,512.99 L294.81,501.85 L299.27,506.93 L303.74,512.34 L308.21,518.12 L312.67,509.15 L317.13,514.7 L321.6,520.68 L326.06,513.51 L330.53,519.39 L335,525.76 L339.46,519.81 L343.92,526.21 L348.39,521.56 L352.86,528.13 L357.32,535.37 L361.78,531.3 L366.25,528.42 L370.71,535.69 L375.18,533.47 L379.64,541.36 L384.11,539.73 L388.57,538.81 L393.04,538.49 L397.5,547.06 L401.97,547.27 L406.44,548 L410.9,549.22 L415.36,550.89 L419.83,553.02 L424.29,555.61 L428.76,551.49 L433.22,554.96 L437.69,558.93 L442.15,556.76 L446.62,561.64 L451.08,560.73 L455.55,560.59 L460.01,566.89 L464.48,567.85 L468.94,569.49 L473.41,571.8 L477.88,569.38 L482.34,573.01 L486.81,572.28 L491.27,572.45 L495.74,578.06 L500.2,579.68 L504.66,577.62 L509.13,580.89 L513.6,580.75 L518.06,581.57 L522.52,583.3 L526.99,585.92 L531.45,585.74 L535.92,590.23 L540.38,588.5 L544.85,591.39 L549.32,591.96 L553.78,593.67 L558.25,596.51 L562.71,597.35 L567.17,599.46 L571.64,599.83 L576.11,601.56 L580.57,601.84 L585.04,603.53 L589.5,604.03 L593.96,606 L598.43,606.98 L602.89,609.49 L607.36,611.21 L611.83,612.27 L616.29,612.83 L620.75,615.16 L625.22,615.06 L629.68,616.86 L634.15,618.56 L638.62,620.27 L643.08,622.11 L647.55,622.37 L652.01,624.8 L656.48,625.95 L660.94,626.05 L665.4,628.52 L669.87,628.63 L674.34,631.24 L678.8,631.88" fill="none" stroke="#0000ff" stroke-width="3.5" stroke-linejoin="round" stroke-linecap="butt" />
<path d="M143,493.74 L147.47,497.11 L151.93,500.56 L156.4,504.07 L160.86,507.67 L165.32,480.43 L169.79,483.6 L174.25,486.8 L178.72,490.06 L183.19,493.37 L187.65,496.75 L192.12,500.18 L196.58,503.69 L201.05,507.28 L205.51,510.95 L209.97,514.73 L214.44,518.61 L218.91,522.62 L223.37,526.77 L227.83,531.08 L232.3,513.03 L236.76,516.86 L241.23,520.81 L245.69,524.9 L250.16,529.13 L254.62,533.54 L259.09,538.14 L263.56,542.97 L268.02,529.35 L272.49,533.77 L276.95,538.38 L281.41,543.23 L285.88,548.35 L290.35,553.79 L294.81,542.65 L299.27,547.73 L303.74,553.14 L308.21,558.92 L312.67,549.95 L317.13,555.5 L321.6,561.48 L326.06,554.31 L330.53,560.19 L335,566.56 L339.46,560.61 L343.92,567.01 L348.39,562.36 L352.86,568.93 L357.32,576.17 L361.78,572.1 L366.25,569.22 L370.71,576.49 L375.18,574.27 L379.64,582.16 L384.11,580.53 L388.57,579.61 L393.04,579.29 L397.5,587.86 L401.97,588.07 L406.44,588.8 L410.9,590.02 L415.36,591.69 L419.83,593.82 L424.29,596.41 L428.76,592.29 L433.22,595.76 L437.69,599.73 L442.15,597.56 L446.62,602.44 L451.08,601.53 L455.55,601.39 L460.01,607.69 L464.48,608.65 L468.94,610.29 L473.41,612.6 L477.88,610.18 L482.34,613.81 L486.81,613.08 L491.27,613.25 L495.74,618.86 L500.2,620.48 L504.66,618.42 L509.13,621.69 L513.6,621.55 L518.06,622.37 L522.52,624.1 L526.99,626.72 L531.45,626.54 L535.92,631.03 L540.38,629.3 L544.85,632.19 L549.32,632.76 L553.78,634.47 L558.25,637.31 L562.71,638.15 L567.17,640.26 L571.64,640.63 L576.11,642.36 L580.57,642.64 L585.04,644.33 L589.5,644.83 L593.96,646.8 L598.43,647.78 L602.89,650.29 L607.36,652.01 L611.83,653.07 L616.29,653.63 L620.75,655.96 L625.22,655.86 L629.68,657.66 L634.15,659.36 L638.62,661.07 L643.08,662.91 L647.55,663.17 L652.01,665.6 L656.48,666.75 L660.94,666.85 L665.4,669.32 L669.87,669.43 L674.34,672.04 L678.8,672.68" fill="none" stroke="#ff0000" stroke-width="3.5" stroke-linejoin="round" stroke-linecap="butt" />
<path d="M196.76,753.5v-2.6M196.76,345v2.6M228.21,753.5v-2.6M228.21,345v2.6M250.53,753.5v-2.6M250.53,345v2.6M267.84,753.5v-2.6M267.84,345v2.6M281.98,753.5v-2.6M281.98,345v2.6M293.93,753.5v-2.6M293.93,345v2.6M304.29,753.5v-2.6M304.29,345v2.6M313.43,753.5v-2.6M313.43,345v2.6M321.6,753.5v-5.0M321.6,345v5.0M375.36,753.5v-2.6M375.36,345v2.6M406.81,753.5v-2.6M406.81,345v2.6M429.13,753.5v-2.6M429.13,345v2.6M446.44,753.5v-2.6M446.44,345v2.6M460.58,753.5v-2.6M460.58,345v2.6M472.53,753.5v-2.6M472.53,345v2.6M482.89,753.5v-2.6M482.89,345v2.6M492.03,753.5v-2.6M492.03,345v2.6M500.2,753.5v-5.0M500.2,345v5.0M553.96,753.5v-2.6M553.96,345v2.6M585.41,753.5v-2.6M585.41,345v2.6M607.73,753.5v-2.6M607.73,345v2.6M625.04,753.5v-2.6M625.04,345v2.6M639.18,753.5v-2.6M639.18,345v2.6M651.13,753.5v-2.6M651.13,345v2.6M661.49,753.5v-2.6M661.49,345v2.6M670.63,753.5v-2.6M670.63,345v2.6M143,722.76h2.6M678.8,722.76h-2.6M143,704.77h2.6M678.8,704.77h-2.6M143,692.01h2.6M678.8,692.01h-2.6M143,682.12h2.6M678.8,682.12h-2.6M143,674.03h2.6M678.8,674.03h-2.6M143,667.19h2.6M678.8,667.19h-2.6M143,661.27h2.6M678.8,661.27h-2.6M143,656.05h2.6M678.8,656.05h-2.6M143,651.38h5.0M678.8,651.38h-5.0M143,620.63h2.6M678.8,620.63h-2.6M143,602.65h2.6M678.8,602.65h-2.6M143,589.89h2.6M678.8,589.89h-2.6M143,579.99h2.6M678.8,579.99h-2.6M143,571.91h2.6M678.8,571.91h-2.6M143,565.07h2.6M678.8,565.07h-2.6M143,559.15h2.6M678.8,559.15h-2.6M143,553.92h2.6M678.8,553.92h-2.6M143,549.25h5.0M678.8,549.25h-5.0M143,518.51h2.6M678.8,518.51h-2.6M143,500.52h2.6M678.8,500.52h-2.6M143,487.76h2.6M678.8,487.76h-2.6M143,477.87h2.6M678.8,477.87h-2.6M143,469.78h2.6M678.8,469.78h-2.6M143,462.94h2.6M678.8,462.94h-2.6M143,457.02h2.6M678.8,457.02h-2.6M143,451.8h2.6M678.8,451.8h-2.6M143,447.12h5.0M678.8,447.12h-5.0M143,416.38h2.6M678.8,416.38h-2.6M143,398.4h2.6M678.8,398.4h-2.6M143,385.64h2.6M678.8,385.64h-2.6M143,375.74h2.6M678.8,375.74h-2.6M143,367.66h2.6M678.8,367.66h-2.6M143,360.82h2.6M678.8,360.82h-2.6M143,354.9h2.6M678.8,354.9h-2.6M143,349.67h2.6M678.8,349.67h-2.6" stroke="#000" stroke-width="1.2" fill="none"/>
<rect x="143" y="345" width="535.8" height="408.5" fill="none" stroke="#000" stroke-width="1.8"/>
<text transform="translate(92.56,354.6) scale(0.96,1)" font-family='"Liberation Serif", serif'  font-size="26.5" fill="#000" >10</text>
<rect x="118.8" y="331.2" width="9.8" height="1.2" fill="#000"/>
<text x="128.24" y="338.1" font-family='"Liberation Serif", serif'  font-size="17.2" fill="#000" >2</text>
<text transform="translate(92.56,456.73) scale(0.96,1)" font-family='"Liberation Serif", serif'  font-size="26.5" fill="#000" >10</text>
<rect x="118.8" y="433.32" width="9.8" height="1.2" fill="#000"/>
<text x="128.18" y="440.23" font-family='"Liberation Serif", serif'  font-size="17.2" fill="#000" >3</text>
<text transform="translate(92.56,558.85) scale(0.96,1)" font-family='"Liberation Serif", serif'  font-size="26.5" fill="#000" >10</text>
<rect x="118.8" y="535.45" width="9.8" height="1.2" fill="#000"/>
<text x="128.66" y="542.35" font-family='"Liberation Serif", serif'  font-size="17.2" fill="#000" >4</text>
<text transform="translate(92.56,660.98) scale(0.96,1)" font-family='"Liberation Serif", serif'  font-size="26.5" fill="#000" >10</text>
<rect x="118.8" y="637.58" width="9.8" height="1.2" fill="#000"/>
<text x="128" y="644.48" font-family='"Liberation Serif", serif'  font-size="17.2" fill="#000" >5</text>
<text transform="translate(92.56,763.1) scale(0.96,1)" font-family='"Liberation Serif", serif'  font-size="26.5" fill="#000" >10</text>
<rect x="118.8" y="739.7" width="9.8" height="1.2" fill="#000"/>
<text x="128.26" y="746.6" font-family='"Liberation Serif", serif'  font-size="17.2" fill="#000" >6</text>
<text transform="translate(126.67,790.1) scale(0.96,1)" font-family='"Liberation Serif", serif'  font-size="26.5" fill="#000" >10</text>
<text x="152.11" y="774.2" font-family='"Liberation Serif", serif'  font-size="18.3" fill="#000" >0</text>
<text transform="translate(305.27,790.1) scale(0.96,1)" font-family='"Liberation Serif", serif'  font-size="26.5" fill="#000" >10</text>
<text x="330.71" y="774.2" font-family='"Liberation Serif", serif'  font-size="18.3" fill="#000" >1</text>
<text transform="translate(483.87,790.1) scale(0.96,1)" font-family='"Liberation Serif", serif'  font-size="26.5" fill="#000" >10</text>
<text x="509.31" y="774.2" font-family='"Liberation Serif", serif'  font-size="18.3" fill="#000" >2</text>
<text transform="translate(662.47,790.1) scale(0.96,1)" font-family='"Liberation Serif", serif'  font-size="26.5" fill="#000" >10</text>
<text x="687.91" y="774.2" font-family='"Liberation Serif", serif'  font-size="18.3" fill="#000" >3</text>
<text x="301.92" y="829.8" font-family='"Liberation Serif", serif'  font-size="30.5" fill="#000" >Luminosity [fb</text>
<rect x="485" y="805.3" width="12.6" height="1.3" fill="#000"/>
<text x="498.42" y="813.9" font-family='"Liberation Serif", serif'  font-size="22.5" fill="#000" >1</text>
<text x="509.7" y="831.4" font-family='"Liberation Serif", serif'  font-size="30.5" fill="#000" >]</text>
<text transform="translate(75.3,570.3) rotate(-90)" font-family='"Liberation Serif", serif' font-size="31" letter-spacing="0.7">|θ|<tspan font-size="21.5" dx="0.6" dy="-15">2</tspan></text>
<line x1="869.1" y1="375.74" x2="1405.4" y2="375.74" stroke="#8a8a8a" stroke-width="1.3" stroke-dasharray="10.7 9.5"/>
<path d="M869.19,432.35l0.83,-3.09M873.65,433.62l0.83,-3.09M878.12,434.9l0.83,-3.09M882.58,436.18l0.83,-3.09M887.05,437.46l0.83,-3.09M891.51,438.74l0.83,-3.09M895.98,440.02l0.83,-3.09M900.44,441.3l0.83,-3.09M904.91,442.58l0.83,-3.09M909.37,443.86l0.83,-3.09M913.84,445.14l0.83,-3.09M918.3,446.42l0.83,-3.09M922.77,447.7l0.83,-3.09M927.23,448.98l0.83,-3.09M931.7,450.25l0.83,-3.09M936.16,451.53l0.83,-3.09M940.63,452.81l0.83,-3.09M945.09,454.09l0.83,-3.09M949.56,455.37l0.83,-3.09M954.02,456.65l0.83,-3.09M958.49,457.93l0.83,-3.09M962.95,459.21l0.83,-3.09M967.42,460.49l0.83,-3.09M971.88,461.77l0.83,-3.09M976.35,463.05l0.83,-3.09M980.81,464.33l0.83,-3.09M985.28,465.61l0.83,-3.09M989.74,466.88l0.83,-3.09M994.21,468.16l0.83,-3.09M998.67,469.44l0.83,-3.09M1003.14,470.72l0.83,-3.09M1007.6,472l0.83,-3.09M1012.07,473.28l0.83,-3.09M1016.53,474.56l0.83,-3.09M1021,475.84l0.83,-3.09M1025.46,477.12l0.83,-3.09M1029.93,478.4l0.83,-3.09M1034.39,479.68l0.83,-3.09M1038.86,480.96l0.83,-3.09M1043.32,482.24l0.83,-3.09M1047.79,483.51l0.83,-3.09M1052.25,484.79l0.83,-3.09M1056.72,486.07l0.83,-3.09M1061.18,487.35l0.83,-3.09M1065.65,488.63l0.83,-3.09M1070.11,489.91l0.83,-3.09M1074.58,491.19l0.83,-3.09M1079.04,492.47l0.83,-3.09M1083.51,493.75l0.83,-3.09M1087.97,495.03l0.83,-3.09M1092.44,496.31l0.83,-3.09M1096.9,497.59l0.83,-3.09M1101.37,498.87l0.83,-3.09M1105.83,500.14l0.83,-3.09M1110.3,501.42l0.83,-3.09M1114.76,502.7l0.83,-3.09M1119.23,503.98l0.83,-3.09M1123.69,505.26l0.83,-3.09M1128.16,506.54l0.83,-3.09M1132.62,507.82l0.83,-3.09M1137.09,509.1l0.83,-3.09M1141.55,510.38l0.83,-3.09M1146.02,511.66l0.83,-3.09M1150.48,512.94l0.83,-3.09M1154.95,514.22l0.83,-3.09M1159.41,515.49l0.83,-3.09M1163.88,516.77l0.83,-3.09M1168.34,518.05l0.83,-3.09M1172.81,519.33l0.83,-3.09M1177.27,520.61l0.83,-3.09M1181.74,521.89l0.83,-3.09M1186.2,523.17l0.83,-3.09M1190.67,524.45l0.83,-3.09M1195.13,525.73l0.83,-3.09M1199.6,527.01l0.83,-3.09M1204.06,528.29l0.83,-3.09M1208.53,529.57l0.83,-3.09M1212.99,530.85l0.83,-3.09M1217.46,532.12l0.83,-3.09M1221.92,533.4l0.83,-3.09M1226.39,534.68l0.83,-3.09M1230.85,535.96l0.83,-3.09M1235.32,537.24l0.83,-3.09M1239.78,538.52l0.83,-3.09M1244.25,539.8l0.83,-3.09M1248.71,541.08l0.83,-3.09M1253.18,542.36l0.83,-3.09M1257.64,543.64l0.83,-3.09M1262.11,544.92l0.83,-3.09M1266.57,546.2l0.83,-3.09M1271.04,547.48l0.83,-3.09M1275.5,548.75l0.83,-3.09M1279.97,550.03l0.83,-3.09M1284.43,551.31l0.83,-3.09M1288.9,552.59l0.83,-3.09M1293.36,553.87l0.83,-3.09M1297.83,555.15l0.83,-3.09M1302.29,556.43l0.83,-3.09M1306.76,557.71l0.83,-3.09M1311.22,558.99l0.83,-3.09M1315.69,560.27l0.83,-3.09M1320.15,561.55l0.83,-3.09M1324.62,562.83l0.83,-3.09M1329.08,564.11l0.83,-3.09M1333.55,565.38l0.83,-3.09M1338.01,566.66l0.83,-3.09M1342.48,567.94l0.83,-3.09M1346.94,569.22l0.83,-3.09M1351.41,570.5l0.83,-3.09M1355.87,571.78l0.83,-3.09M1360.34,573.06l0.83,-3.09M1364.8,574.34l0.83,-3.09M1369.27,575.62l0.83,-3.09M1373.73,576.9l0.83,-3.09M1378.2,578.18l0.83,-3.09M1382.66,579.46l0.83,-3.09M1387.13,580.74l0.83,-3.09M1391.59,582.01l0.83,-3.09M1396.06,583.29l0.83,-3.09M1400.52,584.57l0.83,-3.09M1404.99,585.85l0.83,-3.09" stroke="#000" stroke-width="1.6" fill="none"/>
<path d="M869.19,449.75l0.83,-3.09M873.65,451.02l0.83,-3.09M878.12,452.3l0.83,-3.09M882.58,453.58l0.83,-3.09M887.05,454.86l0.83,-3.09M891.51,456.14l0.83,-3.09M895.98,457.42l0.83,-3.09M900.44,458.7l0.83,-3.09M904.91,459.98l0.83,-3.09M909.37,461.26l0.83,-3.09M913.84,462.54l0.83,-3.09M918.3,463.82l0.83,-3.09M922.77,465.1l0.83,-3.09M927.23,466.38l0.83,-3.09M931.7,467.65l0.83,-3.09M936.16,468.93l0.83,-3.09M940.63,470.21l0.83,-3.09M945.09,471.49l0.83,-3.09M949.56,472.77l0.83,-3.09M954.02,474.05l0.83,-3.09M958.49,475.33l0.83,-3.09M962.95,476.61l0.83,-3.09M967.42,477.89l0.83,-3.09M971.88,479.17l0.83,-3.09M976.35,480.45l0.83,-3.09M980.81,481.73l0.83,-3.09M985.28,483.01l0.83,-3.09M989.74,484.28l0.83,-3.09M994.21,485.56l0.83,-3.09M998.67,486.84l0.83,-3.09M1003.14,488.12l0.83,-3.09M1007.6,489.4l0.83,-3.09M1012.07,490.68l0.83,-3.09M1016.53,491.96l0.83,-3.09M1021,493.24l0.83,-3.09M1025.46,494.52l0.83,-3.09M1029.93,495.8l0.83,-3.09M1034.39,497.08l0.83,-3.09M1038.86,498.36l0.83,-3.09M1043.32,499.64l0.83,-3.09M1047.79,500.91l0.83,-3.09M1052.25,502.19l0.83,-3.09M1056.72,503.47l0.83,-3.09M1061.18,504.75l0.83,-3.09M1065.65,506.03l0.83,-3.09M1070.11,507.31l0.83,-3.09M1074.58,508.59l0.83,-3.09M1079.04,509.87l0.83,-3.09M1083.51,511.15l0.83,-3.09M1087.97,512.43l0.83,-3.09M1092.44,513.71l0.83,-3.09M1096.9,514.99l0.83,-3.09M1101.37,516.27l0.83,-3.09M1105.83,517.54l0.83,-3.09M1110.3,518.82l0.83,-3.09M1114.76,520.1l0.83,-3.09M1119.23,521.38l0.83,-3.09M1123.69,522.66l0.83,-3.09M1128.16,523.94l0.83,-3.09M1132.62,525.22l0.83,-3.09M1137.09,526.5l0.83,-3.09M1141.55,527.78l0.83,-3.09M1146.02,529.06l0.83,-3.09M1150.48,530.34l0.83,-3.09M1154.95,531.62l0.83,-3.09M1159.41,532.89l0.83,-3.09M1163.88,534.17l0.83,-3.09M1168.34,535.45l0.83,-3.09M1172.81,536.73l0.83,-3.09M1177.27,538.01l0.83,-3.09M1181.74,539.29l0.83,-3.09M1186.2,540.57l0.83,-3.09M1190.67,541.85l0.83,-3.09M1195.13,543.13l0.83,-3.09M1199.6,544.41l0.83,-3.09M1204.06,545.69l0.83,-3.09M1208.53,546.97l0.83,-3.09M1212.99,548.25l0.83,-3.09M1217.46,549.52l0.83,-3.09M1221.92,550.8l0.83,-3.09M1226.39,552.08l0.83,-3.09M1230.85,553.36l0.83,-3.09M1235.32,554.64l0.83,-3.09M1239.78,555.92l0.83,-3.09M1244.25,557.2l0.83,-3.09M1248.71,558.48l0.83,-3.09M1253.18,559.76l0.83,-3.09M1257.64,561.04l0.83,-3.09M1262.11,562.32l0.83,-3.09M1266.57,563.6l0.83,-3.09M1271.04,564.88l0.83,-3.09M1275.5,566.15l0.83,-3.09M1279.97,567.43l0.83,-3.09M1284.43,568.71l0.83,-3.09M1288.9,569.99l0.83,-3.09M1293.36,571.27l0.83,-3.09M1297.83,572.55l0.83,-3.09M1302.29,573.83l0.83,-3.09M1306.76,575.11l0.83,-3.09M1311.22,576.39l0.83,-3.09M1315.69,577.67l0.83,-3.09M1320.15,578.95l0.83,-3.09M1324.62,580.23l0.83,-3.09M1329.08,581.51l0.83,-3.09M1333.55,582.78l0.83,-3.09M1338.01,584.06l0.83,-3.09M1342.48,585.34l0.83,-3.09M1346.94,586.62l0.83,-3.09M1351.41,587.9l0.83,-3.09M1355.87,589.18l0.83,-3.09M1360.34,590.46l0.83,-3.09M1364.8,591.74l0.83,-3.09M1369.27,593.02l0.83,-3.09M1373.73,594.3l0.83,-3.09M1378.2,595.58l0.83,-3.09M1382.66,596.86l0.83,-3.09M1387.13,598.14l0.83,-3.09M1391.59,599.41l0.83,-3.09M1396.06,600.69l0.83,-3.09M1400.52,601.97l0.83,-3.09M1404.99,603.25l0.83,-3.09" stroke="#0000ff" stroke-width="1.6" fill="none"/>
<path d="M869.19,456.65l0.83,-3.09M873.65,457.92l0.83,-3.09M878.12,459.2l0.83,-3.09M882.58,460.48l0.83,-3.09M887.05,461.76l0.83,-3.09M891.51,463.04l0.83,-3.09M895.98,464.32l0.83,-3.09M900.44,465.6l0.83,-3.09M904.91,466.88l0.83,-3.09M909.37,468.16l0.83,-3.09M913.84,469.44l0.83,-3.09M918.3,470.72l0.83,-3.09M922.77,472l0.83,-3.09M927.23,473.28l0.83,-3.09M931.7,474.55l0.83,-3.09M936.16,475.83l0.83,-3.09M940.63,477.11l0.83,-3.09M945.09,478.39l0.83,-3.09M949.56,479.67l0.83,-3.09M954.02,480.95l0.83,-3.09M958.49,482.23l0.83,-3.09M962.95,483.51l0.83,-3.09M967.42,484.79l0.83,-3.09M971.88,486.07l0.83,-3.09M976.35,487.35l0.83,-3.09M980.81,488.63l0.83,-3.09M985.28,489.91l0.83,-3.09M989.74,491.18l0.83,-3.09M994.21,492.46l0.83,-3.09M998.67,493.74l0.83,-3.09M1003.14,495.02l0.83,-3.09M1007.6,496.3l0.83,-3.09M1012.07,497.58l0.83,-3.09M1016.53,498.86l0.83,-3.09M1021,500.14l0.83,-3.09M1025.46,501.42l0.83,-3.09M1029.93,502.7l0.83,-3.09M1034.39,503.98l0.83,-3.09M1038.86,505.26l0.83,-3.09M1043.32,506.54l0.83,-3.09M1047.79,507.81l0.83,-3.09M1052.25,509.09l0.83,-3.09M1056.72,510.37l0.83,-3.09M1061.18,511.65l0.83,-3.09M1065.65,512.93l0.83,-3.09M1070.11,514.21l0.83,-3.09M1074.58,515.49l0.83,-3.09M1079.04,516.77l0.83,-3.09M1083.51,518.05l0.83,-3.09M1087.97,519.33l0.83,-3.09M1092.44,520.61l0.83,-3.09M1096.9,521.89l0.83,-3.09M1101.37,523.17l0.83,-3.09M1105.83,524.44l0.83,-3.09M1110.3,525.72l0.83,-3.09M1114.76,527l0.83,-3.09M1119.23,528.28l0.83,-3.09M1123.69,529.56l0.83,-3.09M1128.16,530.84l0.83,-3.09M1132.62,532.12l0.83,-3.09M1137.09,533.4l0.83,-3.09M1141.55,534.68l0.83,-3.09M1146.02,535.96l0.83,-3.09M1150.48,537.24l0.83,-3.09M1154.95,538.52l0.83,-3.09M1159.41,539.79l0.83,-3.09M1163.88,541.07l0.83,-3.09M1168.34,542.35l0.83,-3.09M1172.81,543.63l0.83,-3.09M1177.27,544.91l0.83,-3.09M1181.74,546.19l0.83,-3.09M1186.2,547.47l0.83,-3.09M1190.67,548.75l0.83,-3.09M1195.13,550.03l0.83,-3.09M1199.6,551.31l0.83,-3.09M1204.06,552.59l0.83,-3.09M1208.53,553.87l0.83,-3.09M1212.99,555.15l0.83,-3.09M1217.46,556.42l0.83,-3.09M1221.92,557.7l0.83,-3.09M1226.39,558.98l0.83,-3.09M1230.85,560.26l0.83,-3.09M1235.32,561.54l0.83,-3.09M1239.78,562.82l0.83,-3.09M1244.25,564.1l0.83,-3.09M1248.71,565.38l0.83,-3.09M1253.18,566.66l0.83,-3.09M1257.64,567.94l0.83,-3.09M1262.11,569.22l0.83,-3.09M1266.57,570.5l0.83,-3.09M1271.04,571.78l0.83,-3.09M1275.5,573.05l0.83,-3.09M1279.97,574.33l0.83,-3.09M1284.43,575.61l0.83,-3.09M1288.9,576.89l0.83,-3.09M1293.36,578.17l0.83,-3.09M1297.83,579.45l0.83,-3.09M1302.29,580.73l0.83,-3.09M1306.76,582.01l0.83,-3.09M1311.22,583.29l0.83,-3.09M1315.69,584.57l0.83,-3.09M1320.15,585.85l0.83,-3.09M1324.62,587.13l0.83,-3.09M1329.08,588.41l0.83,-3.09M1333.55,589.68l0.83,-3.09M1338.01,590.96l0.83,-3.09M1342.48,592.24l0.83,-3.09M1346.94,593.52l0.83,-3.09M1351.41,594.8l0.83,-3.09M1355.87,596.08l0.83,-3.09M1360.34,597.36l0.83,-3.09M1364.8,598.64l0.83,-3.09M1369.27,599.92l0.83,-3.09M1373.73,601.2l0.83,-3.09M1378.2,602.48l0.83,-3.09M1382.66,603.76l0.83,-3.09M1387.13,605.04l0.83,-3.09M1391.59,606.31l0.83,-3.09M1396.06,607.59l0.83,-3.09M1400.52,608.87l0.83,-3.09M1404.99,610.15l0.83,-3.09" stroke="#ff0000" stroke-width="1.6" fill="none"/>
<path d="M869.6,470.65 L874.07,467.94 L878.53,473.87 L883,471.82 L887.46,478.08 L891.93,476.59 L896.39,483.28 L900.86,482.31 L905.32,481.88 L909.79,481.91 L914.25,489.17 L918.72,489.67 L923.18,490.58 L927.64,491.87 L932.11,493.54 L936.58,495.57 L941.04,497.96 L945.5,494.94 L949.97,498.07 L954.44,501.59 L958.9,500.14 L963.37,504.39 L967.83,503.96 L972.3,504.15 L976.76,509.54 L981.23,510.63 L985.69,512.25 L990.15,510.07 L994.62,512.78 L999.09,516.02 L1003.55,515.73 L1008.01,516.16 L1012.48,517.24 L1016.95,518.94 L1021.41,521.25 L1025.88,524.2 L1030.34,524.38 L1034.81,525.35 L1039.27,527.04 L1043.74,529.47 L1048.2,529.62 L1052.66,530.63 L1057.13,532.45 L1061.6,535.09 L1066.06,535.85 L1070.53,537.54 L1074.99,537.61 L1079.45,538.69 L1083.92,540.72 L1088.38,541.43 L1092.85,543.18 L1097.32,545.96 L1101.78,545.53 L1106.24,548.34 L1110.71,548.25 L1115.17,551.34 L1119.64,551.78 L1124.11,553.52 L1128.57,554.75 L1133.04,555.58 L1137.5,557.79 L1141.96,558.11 L1146.43,559.91 L1150.89,561.63 L1155.36,563.37 L1159.83,563.75 L1164.29,565.8 L1168.76,566.73 L1173.22,568.06 L1177.68,569.86 L1182.15,570.93 L1186.62,571.45 L1191.08,572.74 L1195.55,574.85 L1200.01,575.6 L1204.47,577.39 L1208.94,578.13 L1213.4,580.1 L1217.87,581.32 L1222.34,582.95 L1226.8,584.16 L1231.26,585.11 L1235.73,586.87 L1240.2,587.78 L1244.66,588.91 L1249.12,590.39 L1253.59,591.57 L1258.06,593.4 L1262.52,594.5 L1266.99,595.84 L1271.45,596.87 L1275.91,598.49 L1280.38,599.51 L1284.85,600.82 L1289.31,601.96 L1293.78,603.17 L1298.24,604.65 L1302.7,606.03 L1307.17,607.53 L1311.63,608.84 L1316.1,610.2 L1320.57,611.36 L1325.03,612.58 L1329.5,613.64 L1333.96,615.28 L1338.42,616.36 L1342.89,617.67 L1347.36,619.04 L1351.82,620.34 L1356.29,621.5 L1360.75,622.84 L1365.21,624.28 L1369.68,625.42 L1374.14,626.63 L1378.61,627.9 L1383.08,629.26 L1387.54,630.75 L1392.01,632.09 L1396.47,633.08 L1400.93,634.47 L1405.4,635.75" fill="none" stroke="#000" stroke-width="3.5" stroke-linejoin="round" stroke-linecap="butt" />
<path d="M869.6,482.85 L874.07,480.14 L878.53,486.07 L883,484.02 L887.46,490.28 L891.93,488.79 L896.39,495.48 L900.86,494.51 L905.32,494.08 L909.79,494.11 L914.25,501.37 L918.72,501.87 L923.18,502.78 L927.64,504.07 L932.11,505.74 L936.58,507.77 L941.04,510.16 L945.5,507.14 L949.97,510.27 L954.44,513.79 L958.9,512.34 L963.37,516.59 L967.83,516.16 L972.3,516.35 L976.76,521.74 L981.23,522.83 L985.69,524.45 L990.15,522.27 L994.62,524.98 L999.09,528.22 L1003.55,527.93 L1008.01,528.36 L1012.48,529.44 L1016.95,531.14 L1021.41,533.45 L1025.88,536.4 L1030.34,536.58 L1034.81,537.55 L1039.27,539.24 L1043.74,541.67 L1048.2,541.82 L1052.66,542.83 L1057.13,544.65 L1061.6,547.29 L1066.06,548.05 L1070.53,549.74 L1074.99,549.81 L1079.45,550.89 L1083.92,552.92 L1088.38,553.63 L1092.85,555.38 L1097.32,558.16 L1101.78,557.73 L1106.24,560.54 L1110.71,560.45 L1115.17,563.54 L1119.64,563.98 L1124.11,565.72 L1128.57,566.95 L1133.04,567.78 L1137.5,569.99 L1141.96,570.31 L1146.43,572.11 L1150.89,573.83 L1155.36,575.57 L1159.83,575.95 L1164.29,578 L1168.76,578.93 L1173.22,580.26 L1177.68,582.06 L1182.15,583.13 L1186.62,583.65 L1191.08,584.94 L1195.55,587.05 L1200.01,587.8 L1204.47,589.59 L1208.94,590.33 L1213.4,592.3 L1217.87,593.52 L1222.34,595.15 L1226.8,596.36 L1231.26,597.31 L1235.73,599.07 L1240.2,599.98 L1244.66,601.11 L1249.12,602.59 L1253.59,603.77 L1258.06,605.6 L1262.52,606.7 L1266.99,608.04 L1271.45,609.07 L1275.91,610.69 L1280.38,611.71 L1284.85,613.02 L1289.31,614.16 L1293.78,615.37 L1298.24,616.85 L1302.7,618.23 L1307.17,619.73 L1311.63,621.04 L1316.1,622.4 L1320.57,623.56 L1325.03,624.78 L1329.5,625.84 L1333.96,627.48 L1338.42,628.56 L1342.89,629.87 L1347.36,631.24 L1351.82,632.54 L1356.29,633.7 L1360.75,635.04 L1365.21,636.48 L1369.68,637.62 L1374.14,638.83 L1378.61,640.1 L1383.08,641.46 L1387.54,642.95 L1392.01,644.29 L1396.47,645.28 L1400.93,646.67 L1405.4,647.95" fill="none" stroke="#ff0000" stroke-width="3.5" stroke-linejoin="round" stroke-linecap="butt" />
<path d="M869.6,491.75 L874.07,489.04 L878.53,494.97 L883,492.92 L887.46,499.18 L891.93,497.69 L896.39,504.38 L900.86,503.41 L905.32,502.98 L909.79,503.01 L914.25,510.27 L918.72,510.77 L923.18,511.68 L927.64,512.97 L932.11,514.64 L936.58,516.67 L941.04,519.06 L945.5,516.04 L949.97,519.17 L954.44,522.69 L958.9,521.24 L963.37,525.49 L967.83,525.06 L972.3,525.25 L976.76,530.64 L981.23,531.73 L985.69,533.35 L990.15,531.17 L994.62,533.88 L999.09,537.12 L1003.55,536.83 L1008.01,537.26 L1012.48,538.34 L1016.95,540.04 L1021.41,542.35 L1025.88,545.3 L1030.34,545.48 L1034.81,546.45 L1039.27,548.14 L1043.74,550.57 L1048.2,550.72 L1052.66,551.73 L1057.13,553.55 L1061.6,556.19 L1066.06,556.95 L1070.53,558.64 L1074.99,558.71 L1079.45,559.79 L1083.92,561.82 L1088.38,562.53 L1092.85,564.28 L1097.32,567.06 L1101.78,566.63 L1106.24,569.44 L1110.71,569.35 L1115.17,572.44 L1119.64,572.88 L1124.11,574.62 L1128.57,575.85 L1133.04,576.68 L1137.5,578.89 L1141.96,579.21 L1146.43,581.01 L1150.89,582.73 L1155.36,584.47 L1159.83,584.85 L1164.29,586.9 L1168.76,587.83 L1173.22,589.16 L1177.68,590.96 L1182.15,592.03 L1186.62,592.55 L1191.08,593.84 L1195.55,595.95 L1200.01,596.7 L1204.47,598.49 L1208.94,599.23 L1213.4,601.2 L1217.87,602.42 L1222.34,604.05 L1226.8,605.26 L1231.26,606.21 L1235.73,607.97 L1240.2,608.88 L1244.66,610.01 L1249.12,611.49 L1253.59,612.67 L1258.06,614.5 L1262.52,615.6 L1266.99,616.94 L1271.45,617.97 L1275.91,619.59 L1280.38,620.61 L1284.85,621.92 L1289.31,623.06 L1293.78,624.27 L1298.24,625.75 L1302.7,627.13 L1307.17,628.63 L1311.63,629.94 L1316.1,631.3 L1320.57,632.46 L1325.03,633.68 L1329.5,634.74 L1333.96,636.38 L1338.42,637.46 L1342.89,638.77 L1347.36,640.14 L1351.82,641.44 L1356.29,642.6 L1360.75,643.94 L1365.21,645.38 L1369.68,646.52 L1374.14,647.73 L1378.61,649 L1383.08,650.36 L1387.54,651.85 L1392.01,653.19 L1396.47,654.18 L1400.93,655.57 L1405.4,656.85" fill="none" stroke="#0000ff" stroke-width="3.5" stroke-linejoin="round" stroke-linecap="butt" />
<path d="M923.36,753.5v-2.6M923.36,345v2.6M954.81,753.5v-2.6M954.81,345v2.6M977.13,753.5v-2.6M977.13,345v2.6M994.44,753.5v-2.6M994.44,345v2.6M1008.58,753.5v-2.6M1008.58,345v2.6M1020.53,753.5v-2.6M1020.53,345v2.6M1030.89,753.5v-2.6M1030.89,345v2.6M1040.03,753.5v-2.6M1040.03,345v2.6M1048.2,753.5v-5.0M1048.2,345v5.0M1101.96,753.5v-2.6M1101.96,345v2.6M1133.41,753.5v-2.6M1133.41,345v2.6M1155.73,753.5v-2.6M1155.73,345v2.6M1173.04,753.5v-2.6M1173.04,345v2.6M1187.18,753.5v-2.6M1187.18,345v2.6M1199.13,753.5v-2.6M1199.13,345v2.6M1209.49,753.5v-2.6M1209.49,345v2.6M1218.63,753.5v-2.6M1218.63,345v2.6M1226.8,753.5v-5.0M1226.8,345v5.0M1280.56,753.5v-2.6M1280.56,345v2.6M1312.01,753.5v-2.6M1312.01,345v2.6M1334.33,753.5v-2.6M1334.33,345v2.6M1351.64,753.5v-2.6M1351.64,345v2.6M1365.78,753.5v-2.6M1365.78,345v2.6M1377.73,753.5v-2.6M1377.73,345v2.6M1388.09,753.5v-2.6M1388.09,345v2.6M1397.23,753.5v-2.6M1397.23,345v2.6M869.6,722.76h2.6M1405.4,722.76h-2.6M869.6,704.77h2.6M1405.4,704.77h-2.6M869.6,692.01h2.6M1405.4,692.01h-2.6M869.6,682.12h2.6M1405.4,682.12h-2.6M869.6,674.03h2.6M1405.4,674.03h-2.6M869.6,667.19h2.6M1405.4,667.19h-2.6M869.6,661.27h2.6M1405.4,661.27h-2.6M869.6,656.05h2.6M1405.4,656.05h-2.6M869.6,651.38h5.0M1405.4,651.38h-5.0M869.6,620.63h2.6M1405.4,620.63h-2.6M869.6,602.65h2.6M1405.4,602.65h-2.6M869.6,589.89h2.6M1405.4,589.89h-2.6M869.6,579.99h2.6M1405.4,579.99h-2.6M869.6,571.91h2.6M1405.4,571.91h-2.6M869.6,565.07h2.6M1405.4,565.07h-2.6M869.6,559.15h2.6M1405.4,559.15h-2.6M869.6,553.92h2.6M1405.4,553.92h-2.6M869.6,549.25h5.0M1405.4,549.25h-5.0M869.6,518.51h2.6M1405.4,518.51h-2.6M869.6,500.52h2.6M1405.4,500.52h-2.6M869.6,487.76h2.6M1405.4,487.76h-2.6M869.6,477.87h2.6M1405.4,477.87h-2.6M869.6,469.78h2.6M1405.4,469.78h-2.6M869.6,462.94h2.6M1405.4,462.94h-2.6M869.6,457.02h2.6M1405.4,457.02h-2.6M869.6,451.8h2.6M1405.4,451.8h-2.6M869.6,447.12h5.0M1405.4,447.12h-5.0M869.6,416.38h2.6M1405.4,416.38h-2.6M869.6,398.4h2.6M1405.4,398.4h-2.6M869.6,385.64h2.6M1405.4,385.64h-2.6M869.6,375.74h2.6M1405.4,375.74h-2.6M869.6,367.66h2.6M1405.4,367.66h-2.6M869.6,360.82h2.6M1405.4,360.82h-2.6M869.6,354.9h2.6M1405.4,354.9h-2.6M869.6,349.67h2.6M1405.4,349.67h-2.6" stroke="#000" stroke-width="1.2" fill="none"/>
<rect x="869.6" y="345" width="535.8" height="408.5" fill="none" stroke="#000" stroke-width="1.8"/>
<text transform="translate(819.16,354.6) scale(0.96,1)" font-family='"Liberation Serif", serif'  font-size="26.5" fill="#000" >10</text>
<rect x="845.4" y="331.2" width="9.8" height="1.2" fill="#000"/>
<text x="854.84" y="338.1" font-family='"Liberation Serif", serif'  font-size="17.2" fill="#000" >2</text>
<text transform="translate(819.16,456.73) scale(0.96,1)" font-family='"Liberation Serif", serif'  font-size="26.5" fill="#000" >10</text>
<rect x="845.4" y="433.32" width="9.8" height="1.2" fill="#000"/>
<text x="854.78" y="440.23" font-family='"Liberation Serif", serif'  font-size="17.2" fill="#000" >3</text>
<text transform="translate(819.16,558.85) scale(0.96,1)" font-family='"Liberation Serif", serif'  font-size="26.5" fill="#000" >10</text>
<rect x="845.4" y="535.45" width="9.8" height="1.2" fill="#000"/>
<text x="855.26" y="542.35" font-family='"Liberation Serif", serif'  font-size="17.2" fill="#000" >4</text>
<text transform="translate(819.16,660.98) scale(0.96,1)" font-family='"Liberation Serif", serif'  font-size="26.5" fill="#000" >10</text>
<rect x="845.4" y="637.58" width="9.8" height="1.2" fill="#000"/>
<text x="854.6" y="644.48" font-family='"Liberation Serif", serif'  font-size="17.2" fill="#000" >5</text>
<text transform="translate(819.16,763.1) scale(0.96,1)" font-family='"Liberation Serif", serif'  font-size="26.5" fill="#000" >10</text>
<rect x="845.4" y="739.7" width="9.8" height="1.2" fill="#000"/>
<text x="854.86" y="746.6" font-family='"Liberation Serif", serif'  font-size="17.2" fill="#000" >6</text>
<text transform="translate(853.27,790.1) scale(0.96,1)" font-family='"Liberation Serif", serif'  font-size="26.5" fill="#000" >10</text>
<text x="878.71" y="774.2" font-family='"Liberation Serif", serif'  font-size="18.3" fill="#000" >0</text>
<text transform="translate(1031.87,790.1) scale(0.96,1)" font-family='"Liberation Serif", serif'  font-size="26.5" fill="#000" >10</text>
<text x="1057.31" y="774.2" font-family='"Liberation Serif", serif'  font-size="18.3" fill="#000" >1</text>
<text transform="translate(1210.47,790.1) scale(0.96,1)" font-family='"Liberation Serif", serif'  font-size="26.5" fill="#000" >10</text>
<text x="1235.91" y="774.2" font-family='"Liberation Serif", serif'  font-size="18.3" fill="#000" >2</text>
<text transform="translate(1389.07,790.1) scale(0.96,1)" font-family='"Liberation Serif", serif'  font-size="26.5" fill="#000" >10</text>
<text x="1414.51" y="774.2" font-family='"Liberation Serif", serif'  font-size="18.3" fill="#000" >3</text>
<text x="1028.52" y="829.8" font-family='"Liberation Serif", serif'  font-size="30.5" fill="#000" >Luminosity [fb</text>
<rect x="1211.6" y="805.3" width="12.6" height="1.3" fill="#000"/>
<text x="1225.02" y="813.9" font-family='"Liberation Serif", serif'  font-size="22.5" fill="#000" >1</text>
<text x="1236.3" y="831.4" font-family='"Liberation Serif", serif'  font-size="30.5" fill="#000" >]</text>
<text transform="translate(801.9,570.3) rotate(-90)" font-family='"Liberation Serif", serif' font-size="31" letter-spacing="0.7">|θ|<tspan font-size="21.5" dx="0.6" dy="-15">2</tspan></text>
</svg>
</body></html>
